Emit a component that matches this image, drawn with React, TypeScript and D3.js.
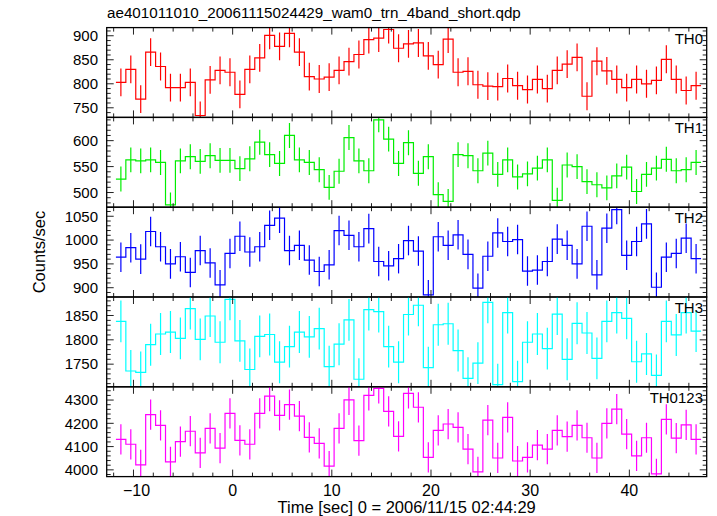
import React from "react";
import * as d3 from "d3";

const panelNames = ["TH0", "TH1", "TH2", "TH3", "TH0123"];
const colors = ["#ff0000", "#00ee00", "#0000ff", "#00ffff", "#ff00ff"];

const th0 = [803, 830, 768, 866, 836, 792, 792, 803, 734, 808, 828, 824, 778, 830, 854, 901, 878, 905, 866, 815, 810, 814, 828, 846, 861, 892, 895, 913, 874, 883,
  885, 858, 840, 893, 824, 826, 798, 795, 794, 811, 796, 788, 809, 790, 828, 841, 855, 774, 847, 827, 809, 792, 809, 800, 807, 851, 809, 786, 796];
const th1 = [526, 563, 561, 563, 558, 476, 561, 569, 560, 571, 562, 562, 546, 565, 597, 573, 556, 610, 563, 558, 544, 510, 541, 606, 561, 542, 640, 603, 556, 596,
  537, 569, 496, 483, 573, 571, 542, 576, 535, 563, 530, 536, 547, 563, 485, 553, 550, 521, 515, 509, 532, 549, 502, 535, 547, 564, 542, 544, 558];
const th2 = [964, 984, 960, 1018, 986, 950, 965, 932, 978, 952, 906, 972, 1008, 975, 986, 1031, 1046, 978, 989, 958, 934, 948, 1020, 1010, 986, 1024, 955, 946, 961, 999,
  977, 885, 1007, 989, 1011, 970, 899, 966, 1015, 997, 1001, 935, 937, 955, 1002, 989, 950, 1029, 927, 1025, 1064, 968, 997, 1034, 901, 964, 972, 1004, 961];
const th3 = [1838, 1736, 1733, 1790, 1812, 1816, 1803, 1864, 1801, 1849, 1795, 1883, 1798, 1739, 1807, 1811, 1754, 1786, 1816, 1806, 1823, 1745, 1791, 1841, 1719, 1862, 1858, 1786, 1754, 1852,
  1871, 1743, 1831, 1833, 1778, 1721, 1752, 1877, 1708, 1856, 1714, 1795, 1812, 1782, 1853, 1760, 1834, 1814, 1762, 1838, 1856, 1844, 1755, 1771, 1727, 1838, 1810, 1856, 1818];
const th0123 = [4131, 4110, 4021, 4237, 4191, 4034, 4121, 4166, 4073, 4178, 4093, 4243, 4127, 4110, 4243, 4317, 4234, 4280, 4231, 4140, 4114, 4016, 4178, 4301, 4126, 4320, 4350, 4251, 4144, 4329,
  4269, 4054, 4170, 4197, 4183, 4089, 3991, 4214, 4051, 4226, 4038, 4054, 4106, 4089, 4170, 4143, 4191, 4138, 4051, 4200, 4261, 4154, 4060, 4138, 3983, 4217, 4136, 4193, 4131];
const series = [th0, th1, th2, th3, th0123];
const errors = [29, 24, 31, 43, 65];

const firstBinCenter = -11.27;
const binWidth = 1;

const xDomain = [-12.7, 47.8];
const xMajorTicks = [-10, 0, 10, 20, 30, 40];
const xMinorStep = 2;

const yDomains = [[730, 917], [471.7, 644.8], [880.5, 1069], [1703.5, 1888], [3971, 4357]];
const yMajorTicks = [[750, 800, 850, 900], [500, 550, 600], [900, 950, 1000, 1050], [1750, 1800, 1850], [4000, 4100, 4200, 4300]];
const yMinorSteps = [10, 10, 10, 10, 20];

const title = "ae401011010_20061115024429_wam0_trn_4band_short.qdp";
const xLabel = "Time [sec] 0 = 2006/11/15 02:44:29";
const yLabel = "Counts/sec";

const W = 717, H = 516;
const left = 106.7, right = 706.7;
const top = 27.6, panelH = 89.8;
const font = "'Liberation Sans', Arial, Helvetica, sans-serif";

function range(a: number, b: number, s: number) {
  const out: number[] = [];
  const start = Math.ceil(a / s - 1e-9) * s;
  for (let v = start; v <= b + 1e-9; v += s) out.push(Math.round(v * 1000) / 1000);
  return out;
}

export default function App() {
  const x = d3.scaleLinear().domain(xDomain).range([left, right]);
  const xMinor = range(xDomain[0], xDomain[1], xMinorStep).filter(v => !xMajorTicks.includes(v));
  const bottom = top + panelH * 5;

  return (
    <svg width={W} height={H} style={{ position: "absolute", left: 0, top: 0, background: "#fff" }} fontFamily={font}>
      <rect x={0} y={0} width={W} height={H} fill="#fff" />
      <text x={107} y={18} fontSize={15.2} fill="#000">{title}</text>
      {series.map((vals, p) => {
        const y0 = top + p * panelH;
        const y = d3.scaleLinear().domain(yDomains[p]).range([y0 + panelH, y0]);
        const centers = vals.map((_, i) => firstBinCenter + i * binWidth);
        const pts: [number, number][] = [];
        vals.forEach((v, i) => {
          pts.push([x(centers[i] - binWidth / 2), y(v)]);
          pts.push([x(centers[i] + binWidth / 2), y(v)]);
        });
        const line = d3.line<[number, number]>()(pts) || "";
        const yMinor = range(yDomains[p][0], yDomains[p][1], yMinorSteps[p]).filter(v => !yMajorTicks[p].includes(v));
        return (
          <g key={p}>
            <defs>
              <clipPath id={`clip${p}`}>
                <rect x={left} y={y0} width={right - left} height={panelH} />
              </clipPath>
            </defs>
            <g clipPath={`url(#clip${p})`}>
              {vals.map((v, i) => (
                <line key={i} x1={x(centers[i])} x2={x(centers[i])} y1={y(v - errors[p])} y2={y(v + errors[p])}
                  stroke={colors[p]} strokeWidth={1.2} />
              ))}
              <path d={line} fill="none" stroke={colors[p]} strokeWidth={1.2} />
            </g>
            {xMajorTicks.map(t => (
              <g key={"xm" + t} stroke="#222" strokeWidth={1}>
                <line x1={x(t)} x2={x(t)} y1={y0} y2={y0 + 7} />
                <line x1={x(t)} x2={x(t)} y1={y0 + panelH} y2={y0 + panelH - 7} />
              </g>
            ))}
            {xMinor.map(t => (
              <g key={"xn" + t} stroke="#222" strokeWidth={1}>
                <line x1={x(t)} x2={x(t)} y1={y0} y2={y0 + 4} />
                <line x1={x(t)} x2={x(t)} y1={y0 + panelH} y2={y0 + panelH - 4} />
              </g>
            ))}
            {yMajorTicks[p].map(v => (
              <g key={"ym" + v}>
                <line x1={left} x2={left + 7} y1={y(v)} y2={y(v)} stroke="#222" />
                <line x1={right} x2={right - 7} y1={y(v)} y2={y(v)} stroke="#222" />
                <text x={98} y={y(v) + 5.3} fontSize={15} textAnchor="end" fill="#000">{v}</text>
              </g>
            ))}
            {yMinor.map(v => (
              <g key={"yn" + v} stroke="#222">
                <line x1={left} x2={left + 4} y1={y(v)} y2={y(v)} />
                <line x1={right} x2={right - 4} y1={y(v)} y2={y(v)} />
              </g>
            ))}
            <rect x={left} y={y0} width={right - left} height={panelH} fill="none" stroke="#000" strokeWidth={1.3} />
            <text x={703} y={y0 + 16} fontSize={15} textAnchor="end" fill="#000">{panelNames[p]}</text>
          </g>
        );
      })}
      {xMajorTicks.map(t => (
        <text key={"xl" + t} x={x(t) + (t < 0 ? 3 : 0)} y={bottom + 19} fontSize={16} textAnchor="middle" fill="#000">{t < 0 ? "\u2212" + Math.abs(t) : t}</text>
      ))}
      <text x={(left + right) / 2} y={513} fontSize={16.5} textAnchor="middle" fill="#000">{xLabel}</text>
      <text transform={`translate(45, ${(top + bottom) / 2}) rotate(-90)`} fontSize={16.5} textAnchor="middle" fill="#000">{yLabel}</text>
    </svg>
  );
}
